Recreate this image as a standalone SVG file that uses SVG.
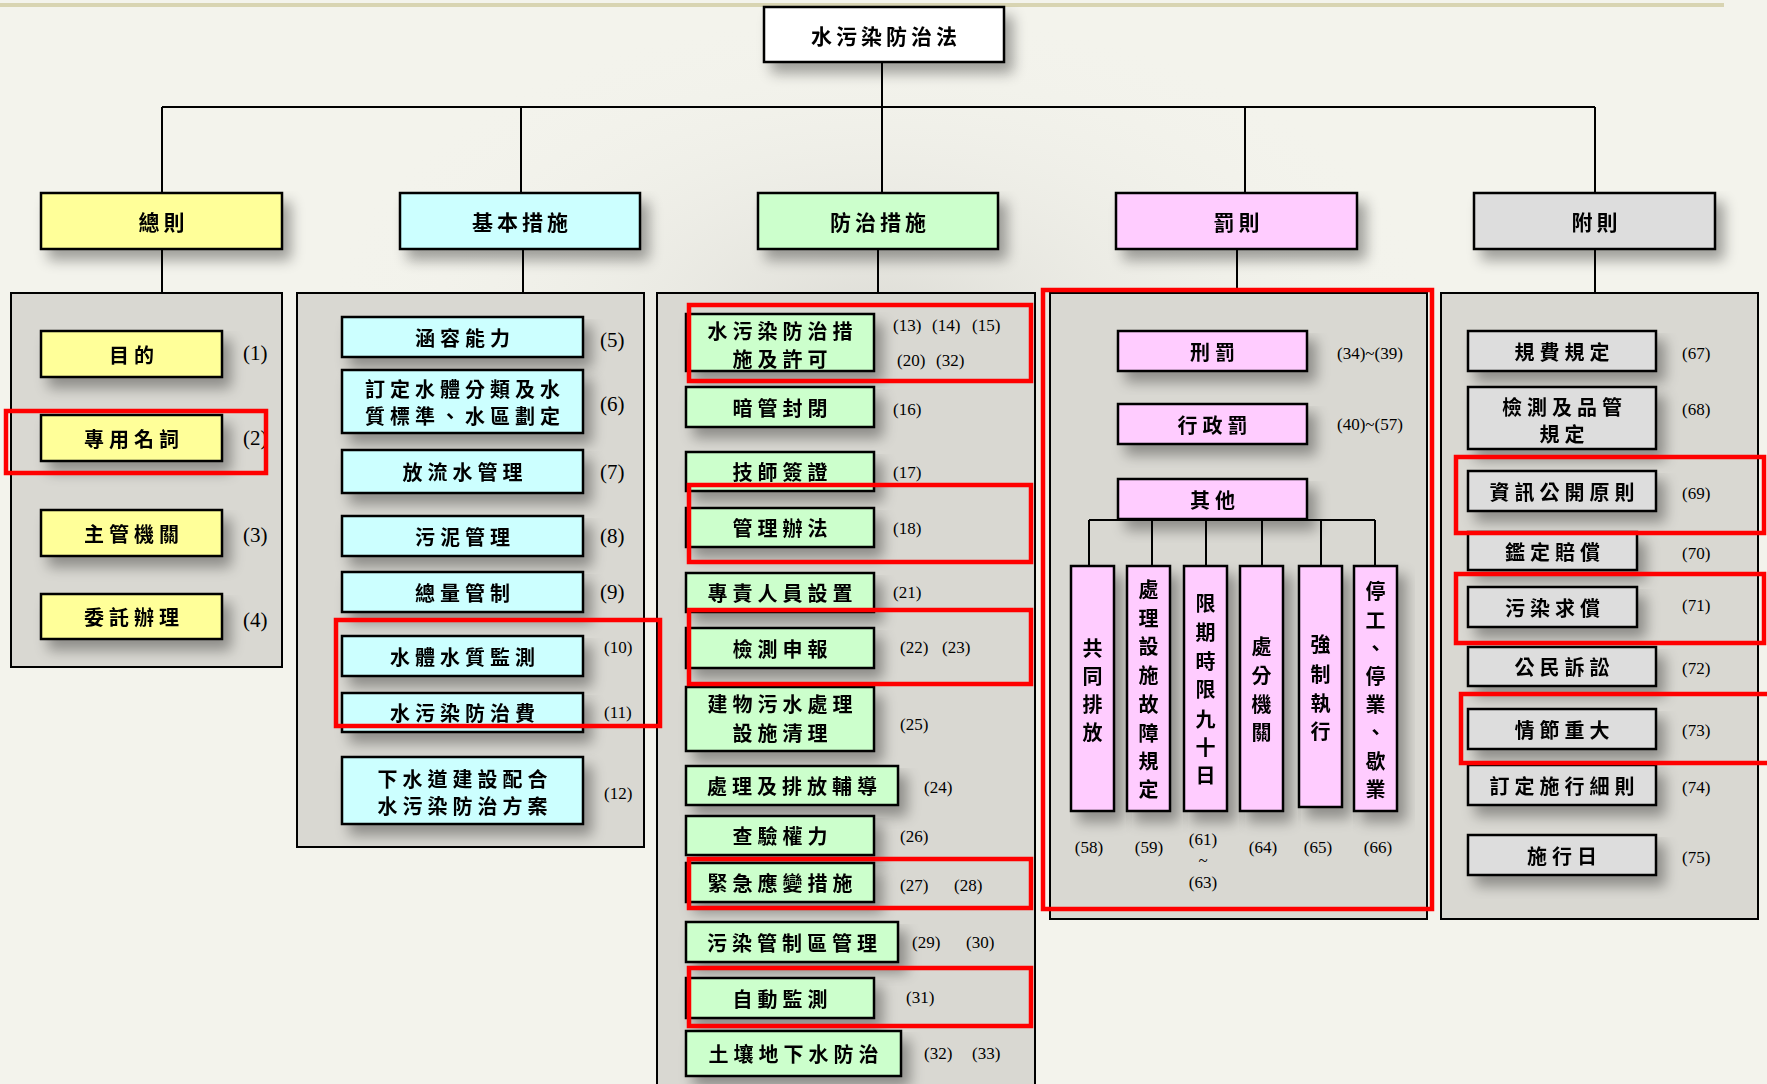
<svg xmlns="http://www.w3.org/2000/svg" width="1767" height="1084" viewBox="0 0 1767 1084">
<style>
.box{stroke:#000;stroke-width:2.5}
.w{fill:#ffffff}.y{fill:#ffff99}.c{fill:#ccffff}.g{fill:#ccffcc}.p{fill:#ffccff}.s{fill:#dddddd}
.t{font-family:"Noto Sans CJK TC","Noto Sans CJK SC",sans-serif;font-weight:700;font-size:20px;letter-spacing:5px;text-anchor:middle;dominant-baseline:central;fill:#000}
.h{font-family:"Noto Sans CJK TC","Noto Sans CJK SC",sans-serif;font-weight:700;font-size:21px;letter-spacing:4px;text-anchor:middle;dominant-baseline:central;fill:#000}
.v{font-family:"Noto Sans CJK TC","Noto Sans CJK SC",sans-serif;font-weight:700;font-size:20px;text-anchor:middle;dominant-baseline:central;fill:#000}
.n{font-family:"Liberation Serif",serif;font-size:17px;fill:#000;dominant-baseline:central}
.nl{font-family:"Liberation Serif",serif;font-size:21px;fill:#000;dominant-baseline:central}
.nc{font-family:"Liberation Serif",serif;font-size:17px;fill:#000;dominant-baseline:central;text-anchor:middle}
.hl{fill:none;stroke:#ff0000;stroke-width:4.5}
.ln{stroke:#000;stroke-width:2;fill:none}
.ct{fill:#d9d8d2;stroke:#000;stroke-width:2}
</style>
<defs>
<filter id="sh" x="-20%" y="-20%" width="160%" height="180%">
<feGaussianBlur in="SourceAlpha" stdDeviation="7"/>
<feOffset dx="8" dy="10" result="b"/>
<feComponentTransfer><feFuncA type="linear" slope="0.35"/></feComponentTransfer>
<feMerge><feMergeNode/><feMergeNode in="SourceGraphic"/></feMerge>
</filter>
<radialGradient id="bg" cx="0.5" cy="0.5" r="0.5">
<stop offset="0" stop-color="#d6d5cf" stop-opacity="1"/>
<stop offset="1" stop-color="#f3f3ec" stop-opacity="0"/>
</radialGradient>
</defs>
<rect x="0" y="0" width="1767" height="1084" fill="#f3f3ec"/>
<ellipse cx="880" cy="330" rx="560" ry="320" fill="url(#bg)" opacity="0.8"/>
<rect x="0" y="3" width="1724" height="4" fill="#d8d4b2"/>

<g id="containers">
<rect class="ct" x="11" y="293" width="271" height="374"/>
<rect class="ct" x="297" y="293" width="347" height="554"/>
<rect class="ct" x="657" y="293" width="378" height="800"/>
<rect class="ct" x="1050" y="293" width="377" height="626"/>
<rect class="ct" x="1441" y="293" width="317" height="626"/>
</g>

<g id="connectors">
<path class="ln" d="M882 62V107M162 107H1595M162 107V193M521 107V193M882 107V193M1245 107V193M1595 107V193" stroke-width="2.5"/>
<path class="ln" d="M162 249V293M523 249V293M878 249V293M1237 249V293M1595 249V293"/>
<path class="ln" d="M1089 520H1375M1089 520V566M1152 520V566M1206 520V566M1262 520V566M1321 520V566M1375 520V566"/>
</g>

<g id="root" filter="url(#sh)"><rect class="box w" x="764" y="7" width="240" height="55"/><text class="h" x="886" y="35">水污染防治法</text></g>

<g id="n-zongze" filter="url(#sh)"><rect class="box y" x="41" y="193" width="241" height="56"/><text class="h" x="163.5" y="221">總則</text></g>
<g id="n-jiben" filter="url(#sh)"><rect class="box c" x="400" y="193" width="240" height="56"/><text class="h" x="522" y="221">基本措施</text></g>
<g id="n-fangzhi" filter="url(#sh)"><rect class="box g" x="758" y="193" width="240" height="56"/><text class="h" x="880" y="221">防治措施</text></g>
<g id="n-fa" filter="url(#sh)"><rect class="box p" x="1116" y="193" width="241" height="56"/><text class="h" x="1238.5" y="221">罰則</text></g>
<g id="n-fu" filter="url(#sh)"><rect class="box s" x="1474" y="193" width="241" height="56"/><text class="h" x="1596.5" y="221">附則</text></g>

<!-- 總則 -->
<g id="z1" filter="url(#sh)"><rect class="box y" x="41" y="331" width="181" height="46"/><text class="t" x="134" y="354">目的</text></g>
<g id="z2" filter="url(#sh)"><rect class="box y" x="41" y="415" width="181" height="46"/><text class="t" x="134" y="438">專用名詞</text></g>
<g id="z3" filter="url(#sh)"><rect class="box y" x="41" y="510" width="181" height="46"/><text class="t" x="134" y="533">主管機關</text></g>
<g id="z4" filter="url(#sh)"><rect class="box y" x="41" y="594" width="181" height="45"/><text class="t" x="134" y="616.5">委託辦理</text></g>
<g id="z-nums"><text class="nl" x="243" y="353">(1)</text><text class="nl" x="243" y="438">(2)</text><text class="nl" x="243" y="535">(3)</text><text class="nl" x="243" y="620">(4)</text></g>

<!-- 基本措施 -->
<g id="j5" filter="url(#sh)"><rect class="box c" x="342" y="317" width="241" height="40"/><text class="t" x="465" y="337">涵容能力</text></g>
<g id="j6" filter="url(#sh)"><rect class="box c" x="342" y="370" width="241" height="63"/><text class="t" x="465" y="388">訂定水體分類及水</text><text class="t" x="465" y="415">質標準、水區劃定</text></g>
<g id="j7" filter="url(#sh)"><rect class="box c" x="342" y="450" width="241" height="43"/><text class="t" x="465" y="471.5">放流水管理</text></g>
<g id="j8" filter="url(#sh)"><rect class="box c" x="342" y="516" width="241" height="40"/><text class="t" x="465" y="536">污泥管理</text></g>
<g id="j9" filter="url(#sh)"><rect class="box c" x="342" y="572" width="241" height="40"/><text class="t" x="465" y="592">總量管制</text></g>
<g id="j10" filter="url(#sh)"><rect class="box c" x="342" y="636" width="241" height="40"/><text class="t" x="465" y="656">水體水質監測</text></g>
<g id="j11" filter="url(#sh)"><rect class="box c" x="342" y="693" width="241" height="39"/><text class="t" x="465" y="712.5">水污染防治費</text></g>
<g id="j12" filter="url(#sh)"><rect class="box c" x="342" y="757" width="241" height="67"/><text class="t" x="465" y="778">下水道建設配合</text><text class="t" x="465" y="805">水污染防治方案</text></g>
<g id="j-nums"><text class="nl" x="600" y="340">(5)</text><text class="nl" x="600" y="404">(6)</text><text class="nl" x="600" y="472">(7)</text><text class="nl" x="600" y="536">(8)</text><text class="nl" x="600" y="592">(9)</text><text class="n" x="604" y="647">(10)</text><text class="n" x="604" y="712">(11)</text><text class="n" x="604" y="793">(12)</text></g>

<!-- 防治措施 -->
<g id="f1" filter="url(#sh)"><rect class="box g" x="686" y="314" width="188" height="57"/><text class="t" x="782.5" y="330">水污染防治措</text><text class="t" x="782.5" y="358">施及許可</text></g>
<g id="f2" filter="url(#sh)"><rect class="box g" x="686" y="387" width="188" height="40"/><text class="t" x="782.5" y="407">暗管封閉</text></g>
<g id="f3" filter="url(#sh)"><rect class="box g" x="686" y="452" width="188" height="39"/><text class="t" x="782.5" y="471.5">技師簽證</text></g>
<g id="f4" filter="url(#sh)"><rect class="box g" x="686" y="508" width="188" height="39"/><text class="t" x="782.5" y="527.5">管理辦法</text></g>
<g id="f5" filter="url(#sh)"><rect class="box g" x="686" y="573" width="188" height="39"/><text class="t" x="782.5" y="592.5">專責人員設置</text></g>
<g id="f6" filter="url(#sh)"><rect class="box g" x="686" y="628" width="188" height="40"/><text class="t" x="782.5" y="648">檢測申報</text></g>
<g id="f7" filter="url(#sh)"><rect class="box g" x="686" y="687" width="188" height="64"/><text class="t" x="782.5" y="703">建物污水處理</text><text class="t" x="782.5" y="732">設施清理</text></g>
<g id="f8" filter="url(#sh)"><rect class="box g" x="686" y="766" width="212" height="39"/><text class="t" x="794.5" y="785.5">處理及排放輔導</text></g>
<g id="f9" filter="url(#sh)"><rect class="box g" x="686" y="816" width="188" height="39"/><text class="t" x="782.5" y="835.5">查驗權力</text></g>
<g id="f10" filter="url(#sh)"><rect class="box g" x="686" y="863" width="188" height="39"/><text class="t" x="782.5" y="882.5">緊急應變措施</text></g>
<g id="f11" filter="url(#sh)"><rect class="box g" x="686" y="922" width="212" height="40"/><text class="t" x="794.5" y="942">污染管制區管理</text></g>
<g id="f12" filter="url(#sh)"><rect class="box g" x="686" y="978" width="188" height="40"/><text class="t" x="782.5" y="998">自動監測</text></g>
<g id="f13" filter="url(#sh)"><rect class="box g" x="686" y="1031" width="215" height="45"/><text class="t" x="796" y="1053.5">土壤地下水防治</text></g>
<g id="f-nums">
<text class="n" x="893" y="325">(13)</text><text class="n" x="932" y="325">(14)</text><text class="n" x="972" y="325">(15)</text>
<text class="n" x="897" y="360">(20)</text><text class="n" x="936" y="360">(32)</text>
<text class="n" x="893" y="409">(16)</text>
<text class="n" x="893" y="472">(17)</text>
<text class="n" x="893" y="528">(18)</text>
<text class="n" x="893" y="592">(21)</text>
<text class="n" x="900" y="647">(22)</text><text class="n" x="942" y="647">(23)</text>
<text class="n" x="900" y="724">(25)</text>
<text class="n" x="924" y="787">(24)</text>
<text class="n" x="900" y="836">(26)</text>
<text class="n" x="900" y="885">(27)</text><text class="n" x="954" y="885">(28)</text>
<text class="n" x="912" y="942">(29)</text><text class="n" x="966" y="942">(30)</text>
<text class="n" x="906" y="997">(31)</text>
<text class="n" x="924" y="1053">(32)</text><text class="n" x="972" y="1053">(33)</text>
</g>

<!-- 罰則 -->
<g id="p1" filter="url(#sh)"><rect class="box p" x="1118" y="331" width="189" height="40"/><text class="t" x="1215" y="351">刑罰</text></g>
<g id="p2" filter="url(#sh)"><rect class="box p" x="1118" y="404" width="189" height="40"/><text class="t" x="1215" y="424">行政罰</text></g>
<g id="p3" filter="url(#sh)"><rect class="box p" x="1118" y="479" width="189" height="40"/><text class="t" x="1215" y="499">其他</text></g>
<g id="pv1" filter="url(#sh)"><rect class="box p" x="1071" y="566" width="43" height="245"/><text class="v"><tspan x="1092.5" y="647">共</tspan><tspan x="1092.5" y="675">同</tspan><tspan x="1092.5" y="703">排</tspan><tspan x="1092.5" y="731">放</tspan></text></g>
<g id="pv2" filter="url(#sh)"><rect class="box p" x="1127" y="566" width="43" height="245"/><text class="v"><tspan x="1148.5" y="588">處</tspan><tspan x="1148.5" y="617">理</tspan><tspan x="1148.5" y="645">設</tspan><tspan x="1148.5" y="674">施</tspan><tspan x="1148.5" y="703">故</tspan><tspan x="1148.5" y="732">障</tspan><tspan x="1148.5" y="760">規</tspan><tspan x="1148.5" y="788">定</tspan></text></g>
<g id="pv3" filter="url(#sh)"><rect class="box p" x="1184" y="566" width="43" height="245"/><text class="v"><tspan x="1205.5" y="602">限</tspan><tspan x="1205.5" y="631">期</tspan><tspan x="1205.5" y="660">時</tspan><tspan x="1205.5" y="688">限</tspan><tspan x="1205.5" y="718">九</tspan><tspan x="1205.5" y="746">十</tspan><tspan x="1205.5" y="774">日</tspan></text></g>
<g id="pv4" filter="url(#sh)"><rect class="box p" x="1240" y="566" width="43" height="245"/><text class="v"><tspan x="1261.5" y="645">處</tspan><tspan x="1261.5" y="674">分</tspan><tspan x="1261.5" y="703">機</tspan><tspan x="1261.5" y="731">關</tspan></text></g>
<g id="pv5" filter="url(#sh)"><rect class="box p" x="1299" y="566" width="43" height="241"/><text class="v"><tspan x="1320.5" y="643">強</tspan><tspan x="1320.5" y="673">制</tspan><tspan x="1320.5" y="702">執</tspan><tspan x="1320.5" y="730">行</tspan></text></g>
<g id="pv6" filter="url(#sh)"><rect class="box p" x="1354" y="566" width="43" height="245"/><text class="v"><tspan x="1375.5" y="590">停</tspan><tspan x="1375.5" y="619">工</tspan><tspan x="1375.5" y="647">、</tspan><tspan x="1375.5" y="675">停</tspan><tspan x="1375.5" y="703">業</tspan><tspan x="1375.5" y="731">、</tspan><tspan x="1375.5" y="760">歇</tspan><tspan x="1375.5" y="788">業</tspan></text></g>
<g id="p-nums">
<text class="n" x="1337" y="353">(34)~(39)</text>
<text class="n" x="1337" y="424">(40)~(57)</text>
<text class="nc" x="1089" y="847">(58)</text>
<text class="nc" x="1149" y="847">(59)</text>
<text class="nc" x="1203" y="839">(61)</text>
<text class="nc" x="1203" y="860">~</text>
<text class="nc" x="1203" y="882">(63)</text>
<text class="nc" x="1263" y="847">(64)</text>
<text class="nc" x="1318" y="847">(65)</text>
<text class="nc" x="1378" y="847">(66)</text>
</g>

<!-- 附則 -->
<g id="a1" filter="url(#sh)"><rect class="box s" x="1468" y="331" width="188" height="40"/><text class="t" x="1564.5" y="351">規費規定</text></g>
<g id="a2" filter="url(#sh)"><rect class="box s" x="1468" y="387" width="188" height="62"/><text class="t" x="1564.5" y="406">檢測及品管</text><text class="t" x="1564.5" y="433">規定</text></g>
<g id="a3" filter="url(#sh)"><rect class="box s" x="1468" y="471" width="188" height="40"/><text class="t" x="1564.5" y="491">資訊公開原則</text></g>
<g id="a4" filter="url(#sh)"><rect class="box s" x="1468" y="532" width="169" height="38"/><text class="t" x="1555" y="551">鑑定賠償</text></g>
<g id="a5" filter="url(#sh)"><rect class="box s" x="1468" y="587" width="169" height="40"/><text class="t" x="1555" y="607">污染求償</text></g>
<g id="a6" filter="url(#sh)"><rect class="box s" x="1468" y="647" width="188" height="39"/><text class="t" x="1564.5" y="666.5">公民訴訟</text></g>
<g id="a7" filter="url(#sh)"><rect class="box s" x="1468" y="709" width="188" height="40"/><text class="t" x="1564.5" y="729">情節重大</text></g>
<g id="a8" filter="url(#sh)"><rect class="box s" x="1468" y="765" width="188" height="40"/><text class="t" x="1564.5" y="785">訂定施行細則</text></g>
<g id="a9" filter="url(#sh)"><rect class="box s" x="1468" y="835" width="188" height="40"/><text class="t" x="1564.5" y="855">施行日</text></g>
<g id="a-nums">
<text class="n" x="1682" y="353">(67)</text><text class="n" x="1682" y="409">(68)</text><text class="n" x="1682" y="493">(69)</text><text class="n" x="1682" y="553">(70)</text><text class="n" x="1682" y="605">(71)</text><text class="n" x="1682" y="668">(72)</text><text class="n" x="1682" y="730">(73)</text><text class="n" x="1682" y="787">(74)</text><text class="n" x="1682" y="857">(75)</text>
</g>

<g id="highlights">
<rect class="hl" x="6" y="411" width="260" height="62"/>
<rect class="hl" x="336" y="620" width="324" height="106"/>
<rect class="hl" x="689" y="305" width="342" height="76"/>
<rect class="hl" x="689" y="485" width="342" height="77"/>
<rect class="hl" x="689" y="610" width="342" height="74"/>
<rect class="hl" x="689" y="859" width="342" height="49"/>
<rect class="hl" x="689" y="968" width="342" height="58"/>
<rect class="hl" x="1043" y="290" width="389" height="619"/>
<rect class="hl" x="1456" y="457" width="308" height="76"/>
<rect class="hl" x="1456" y="574" width="308" height="69"/>
<rect class="hl" x="1461" y="694" width="310" height="69"/>
</g>
</svg>
